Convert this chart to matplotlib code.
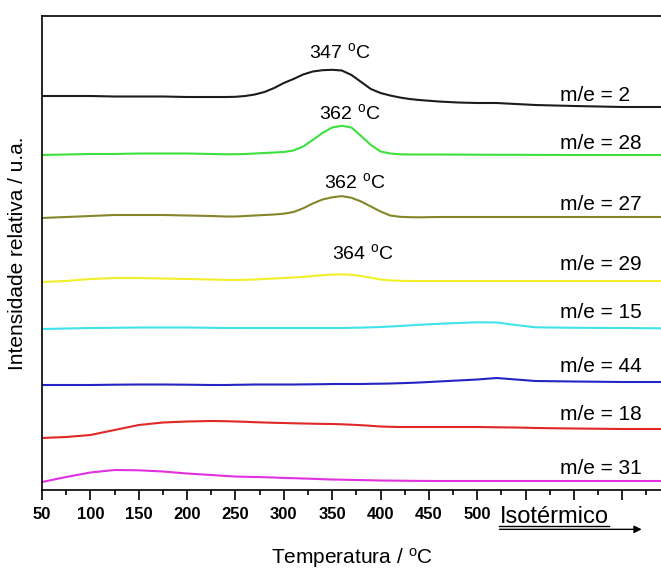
import numpy as np
import matplotlib
matplotlib.use("Agg")
import matplotlib.pyplot as plt
from matplotlib.ticker import MultipleLocator, FixedLocator

plt.rcParams['font.family'] = ['Liberation Sans', 'DejaVu Sans']
plt.rcParams['mathtext.default'] = 'regular'

# temperature grid (°C) and relative intensities (a.u., stacked with offsets)
temp = [50, 75, 100, 125, 150, 175, 200, 225,
        240, 250, 260, 270, 280, 290, 300, 310, 320, 330, 340, 350, 360,
        370, 380, 390, 400, 410, 420, 430, 440,
        460, 480, 500, 520, 540, 560, 600, 650, 690]

me2 = [394, 394, 394, 393.5, 393.5, 393.5, 393, 393,
       393, 393.2, 394, 395.5, 398, 402, 407, 411, 415.5, 418.5, 419.8, 420.2, 419.5,
       415, 408, 401, 397, 394.5, 392.5, 391, 390,
       388.5, 387.5, 387, 387, 386, 385, 384, 383, 383]
me28 = [335, 335.5, 336, 336, 336.5, 336.5, 336.5, 336,
        335.7, 335.8, 336, 336.5, 337, 337.5, 338, 339.5, 343.5, 350, 357, 362.5, 364.2,
        362.5, 354, 345, 338.5, 336.5, 335.7, 335.5, 335.5,
        335.5, 335.4, 335.3, 335.2, 335.2, 335.1, 335, 335, 335]
me27 = [272, 273, 274, 275, 275, 275, 274.5, 274,
        273.5, 273.5, 274, 274.5, 275, 275.5, 276.3, 278, 281.7, 286.5, 290.5, 292.7, 293.9,
        292.2, 288.5, 283.5, 278.5, 274.5, 273.2, 272.8, 272.7,
        273, 273, 273, 273, 273, 273, 273, 273, 273]
me29 = [208, 209, 211, 212, 212, 211.5, 211, 210.5,
        210, 210, 210.2, 210.5, 211, 211.5, 212, 212.5, 213.1, 214, 214.8, 215.4, 215.7,
        215.2, 214, 212.3, 210.5, 209.6, 209.2, 209, 209,
        209, 209, 209, 209, 209, 209, 209, 209, 209]
me15 = [161, 161.5, 162, 162.2, 162.5, 162.5, 162.5, 162.2,
        162, 162, 162, 162, 162, 162, 162, 162, 162, 162, 162, 162, 162,
        162.2, 162.4, 162.7, 163, 163.5, 164, 164.6, 165.2,
        166.2, 167, 167.7, 167.5, 165, 162.7, 162.2, 162, 161.7]
me44 = [105, 105, 105, 105.3, 105.5, 105.5, 105.3, 105,
        105, 105.2, 105.3, 105.5, 105.5, 105.5, 105.5, 105.5, 105.6, 105.7, 105.8, 106, 106,
        106, 106, 106.2, 106.3, 106.5, 106.8, 107.1, 107.5,
        108.5, 109.5, 110.5, 112, 110.5, 109, 108.5, 108, 108]
me18 = [52, 53, 55, 60, 65, 67.5, 68.5, 69,
        68.8, 68.5, 68.2, 67.8, 67.5, 67.2, 67, 66.7, 66.5, 66.3, 66.1, 66, 65.7,
        65.3, 64.8, 64.2, 63.5, 63.2, 63, 63, 63,
        63, 63, 63, 62.7, 62.5, 62, 61.5, 61, 61]
me31 = [8, 13, 17.5, 20, 19.7, 18.5, 16.5, 15,
        14, 13.5, 13.2, 13, 12.8, 12.5, 12, 11.8, 11.5, 11.2, 10.8, 10.5, 10.3,
        10.1, 9.9, 9.7, 9.5, 9.4, 9.3, 9.2, 9.1,
        9, 9, 9, 9, 9, 9, 9, 9, 9]

series = [me2, me28, me27, me29, me15, me44, me18, me31]
names = ['m/e = 2', 'm/e = 28', 'm/e = 27', 'm/e = 29',
         'm/e = 15', 'm/e = 44', 'm/e = 18', 'm/e = 31']
colors = ['#1c1c1c', '#3ee03e', '#85852a', '#f2ef2a',
          '#3fe3ea', '#2424c4', '#e02828', '#e030e0']
label_y = [395, 347, 286, 225, 177, 123, 75, 22]

peak_text = ['347', '362', '362', '364']
peak_x = [358, 368, 373, 382]
peak_y = [438, 377, 308, 237]

fig = plt.figure(figsize=(6.61, 5.70), dpi=100)
ax = fig.add_axes([42 / 661, 80 / 570, 619 / 661, 474 / 570])

for y, c in zip(series, colors):
    ax.plot(temp, y, color=c, lw=1.5)

for name, ly in zip(names, label_y):
    ax.text(586, ly, name, fontsize=15, va='center', ha='left')

for t, px, py in zip(peak_text, peak_x, peak_y):
    ax.text(px, py, t + r' $^{o}$C', fontsize=14, ha='center', va='center')

ax.set_xlim(50, 690)
ax.set_ylim(0, 474)
ax.set_yticks([])
ax.spines['right'].set_visible(False)
for s in ['left', 'top', 'bottom']:
    ax.spines[s].set_linewidth(1.2)

major = list(range(50, 700, 50))
ax.xaxis.set_major_locator(FixedLocator(major))
ax.xaxis.set_minor_locator(MultipleLocator(25))
ax.set_xticklabels([str(m) if m <= 500 else '' for m in major],
                   fontsize=12, fontweight='bold')
ax.tick_params(axis='x', which='major', length=7, width=1.2, pad=5)
ax.tick_params(axis='x', which='minor', length=3.5, width=1.2)

ax.set_xlabel('Temperatura / $^{o}$C', fontsize=15)
ax.xaxis.set_label_coords(0.5, -0.118)
ax.xaxis.label.set_va('top')
ax.set_ylabel('Intensidade relativa / u.a.', fontsize=15)
ax.yaxis.set_label_coords(-0.024, 0.5)

# isothermal segment marker
trans = ax.get_xaxis_transform()
ax.text(523, -0.0696, 'Isotérmico', fontsize=17, transform=trans,
        ha='left', va='baseline', clip_on=False)
ax.plot([523, 636], [-0.075, -0.075], color='black', lw=1.0,
        transform=trans, clip_on=False)
ax.annotate('', xy=(670, -0.083), xytext=(523, -0.083), xycoords=trans,
            textcoords=trans, annotation_clip=False,
            arrowprops=dict(arrowstyle='-|>', color='black', lw=1.0,
                            mutation_scale=11, shrinkA=0, shrinkB=0))

fig.savefig('out.png', dpi=100)
